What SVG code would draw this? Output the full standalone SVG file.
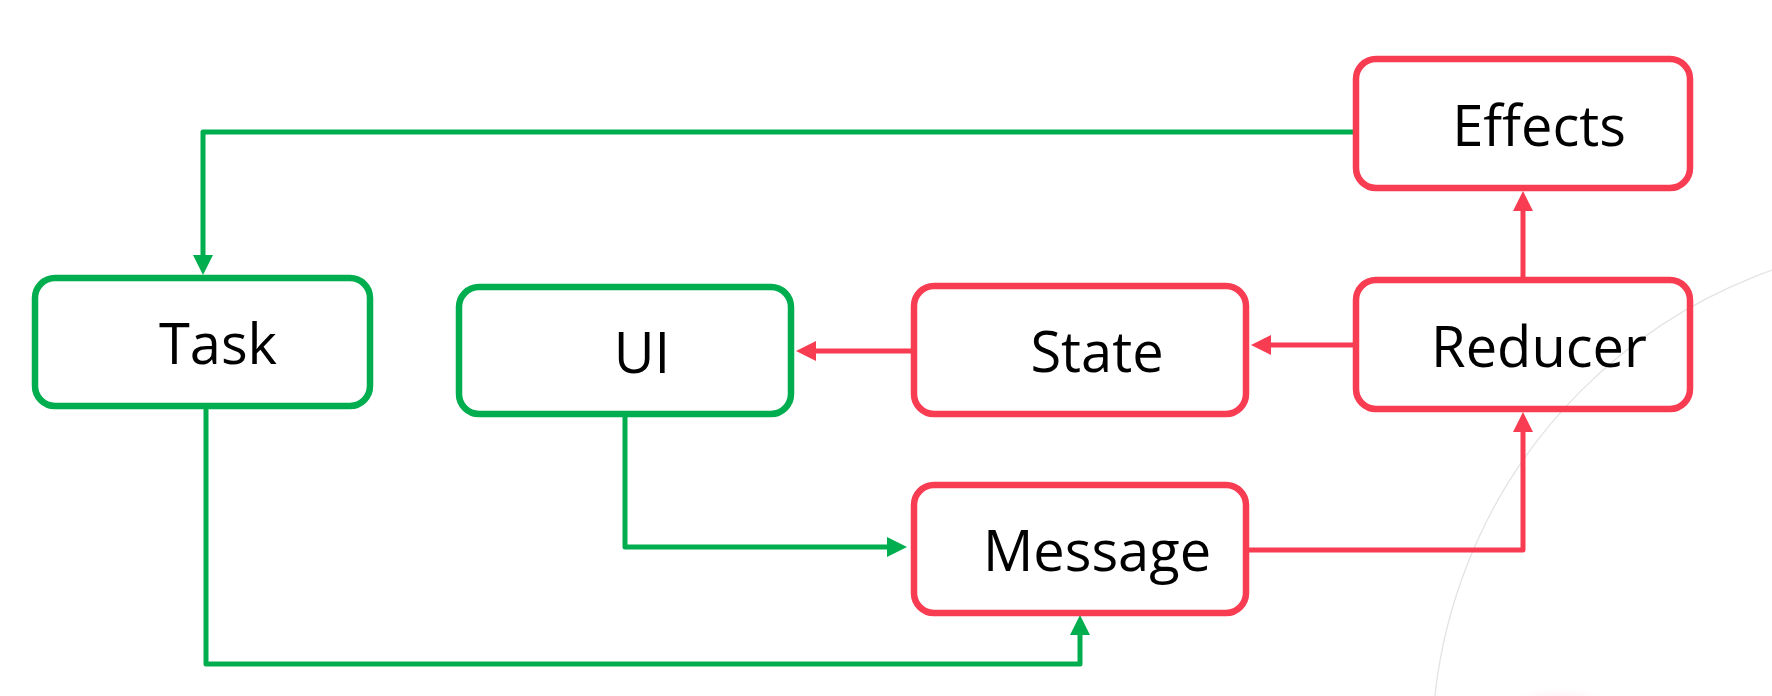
<svg xmlns="http://www.w3.org/2000/svg" width="1772" height="696" viewBox="0 0 1772 696">
<style>
.g{stroke:#00AD4F}
.r{stroke:#F83D52}
.box{fill:none;stroke-width:6.5}
.con{fill:none;stroke-width:5;stroke-linejoin:round}
.lbl{font-family:"Open Sans","Liberation Sans",sans-serif;font-size:56px;fill:#000;text-anchor:middle}
</style>
<defs>
<marker id="ag" viewBox="0 0 20 20" refX="10" refY="10" markerWidth="20" markerHeight="20" markerUnits="userSpaceOnUse" orient="auto"><path d="M0,0 L20,10 L0,20 z" fill="#00AD4F"/></marker>
<marker id="ar" viewBox="0 0 20 20" refX="10" refY="10" markerWidth="20" markerHeight="20" markerUnits="userSpaceOnUse" orient="auto"><path d="M0,0 L20,10 L0,20 z" fill="#F83D52"/></marker>
<radialGradient id="blob"><stop offset="0" stop-color="#FF7FA0" stop-opacity="0.25"/><stop offset="1" stop-color="#FF7FA0" stop-opacity="0"/></radialGradient>
</defs>
<rect width="1772" height="696" fill="#fff"/>
<circle cx="1942" cy="751" r="510" fill="none" stroke="#e3e3e3" stroke-width="1.3"/>
<ellipse cx="1560" cy="712" rx="60" ry="24" fill="url(#blob)"/>
<g id="connectors">
<path class="con g" d="M1353,132 H203 V265" marker-end="url(#ag)"/>
<path class="con g" d="M206,409 V664 H1080 V625" marker-end="url(#ag)"/>
<path class="con g" d="M625,417 V547 H897" marker-end="url(#ag)"/>
<path class="con r" d="M911,351 H806" marker-end="url(#ar)"/>
<path class="con r" d="M1353,345 H1261" marker-end="url(#ar)"/>
<path class="con r" d="M1249,550 H1523 V422" marker-end="url(#ar)"/>
<path class="con r" d="M1523,277 V201" marker-end="url(#ar)"/>
</g>
<g id="task"><rect class="box g" x="35" y="278" width="335" height="128" rx="20"/><text class="lbl" x="218" y="364">Task</text></g>
<g id="ui"><rect class="box g" x="459" y="287" width="332" height="127" rx="20"/><text class="lbl" x="642" y="373">UI</text></g>
<g id="state"><rect class="box r" x="914" y="286" width="332" height="128" rx="20"/><text class="lbl" x="1097" y="372">State</text></g>
<g id="message"><rect class="box r" x="914" y="485" width="332" height="128" rx="20"/><text class="lbl" x="1097" y="571">Message</text></g>
<g id="effects"><rect class="box r" x="1356" y="59" width="334" height="129" rx="20"/><text class="lbl" x="1539" y="146">Effects</text></g>
<g id="reducer"><rect class="box r" x="1356" y="280" width="334" height="129" rx="20"/><text class="lbl" x="1539" y="367">Reducer</text></g>
</svg>
